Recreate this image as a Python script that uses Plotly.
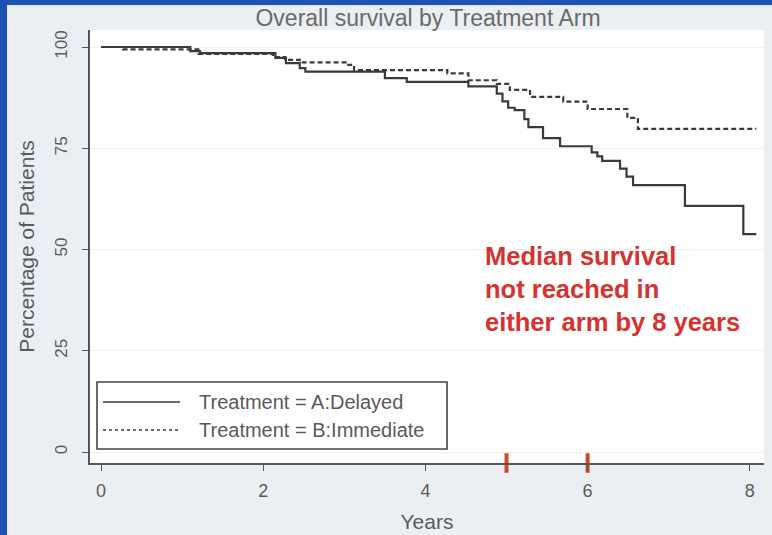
import plotly.graph_objects as go

# Kaplan-Meier step estimates (years, % surviving) for each arm
delayed_years = [0, 1.10, 1.22, 2.15, 2.28, 2.45, 2.52, 3.50, 3.77, 4.53, 4.88, 4.95,
                 5.02, 5.10, 5.22, 5.27, 5.45, 5.66, 6.05, 6.12, 6.18, 6.40, 6.48,
                 6.56, 7.20, 7.92, 8.08]
delayed_pct = [100, 99.0, 98.5, 97.3, 96.0, 94.8, 93.9, 92.3, 91.4, 90.3, 88.5, 86.6,
               85.0, 84.4, 82.2, 80.2, 77.5, 75.5, 74.0, 73.0, 71.9, 70.0, 68.0,
               65.9, 60.8, 53.8, 53.8]

immediate_years = [0, 0.27, 1.20, 2.12, 2.27, 2.45, 3.03, 3.12, 4.27, 4.53, 4.88, 5.04,
                   5.29, 5.70, 6.00, 6.49, 6.62, 8.08]
immediate_pct = [100, 99.4, 98.3, 97.5, 96.8, 96.2, 95.6, 94.3, 93.5, 91.8, 90.9, 89.4,
                 87.7, 86.5, 84.7, 82.5, 79.8, 79.8]

series_names = ["Treatment = A:Delayed", "Treatment = B:Immediate"]
series_dash = ["solid", "5px,3px"]

highlight_years = [5, 6]
x_ticks = [0, 2, 4, 6, 8]
y_ticks = [0, 25, 50, 75, 100]

note_lines = ["Median survival", "not reached in", "either arm by 8 years"]

FONT = "Liberation Sans, Arial, sans-serif"
TEXT_GREY = "#5a5a5a"
LINE_COLOR = "#3a3a3a"
RED = "#d6322f"
PANEL = "#eaeff3"
FRAME_BLUE = "#1d52b4"

X_RANGE = [-0.136, 8.175]
Y_RANGE = [-2.7, 104.2]

fig = go.Figure()

for name, dash, xs, ys in zip(series_names, series_dash,
                              [delayed_years, immediate_years],
                              [delayed_pct, immediate_pct]):
    fig.add_trace(go.Scatter(
        x=xs, y=ys, name=name, mode="lines",
        line=dict(shape="hv", color=LINE_COLOR, width=2.2, dash=dash),
        showlegend=False,
    ))

# red tick marks on the time axis at years 5 and 6
fig.add_trace(go.Scatter(
    x=highlight_years, y=[Y_RANGE[0]] * len(highlight_years), mode="markers",
    marker=dict(symbol="line-ns", size=14, line=dict(color="#cc4a2a", width=4)),
    cliponaxis=False, showlegend=False, hoverinfo="skip",
))

# legend box drawn by hand so the line samples are as long as in Stata output
shapes = [
    dict(type="rect", xref="paper", yref="paper", x0=0.0104, x1=0.5297,
         y0=0.0323, y1=0.187, line=dict(color="#444444", width=1.6),
         fillcolor="white", layer="below"),
    # blue slide frame along the left and top edges
    dict(type="rect", xref="paper", yref="paper", x0=-0.14, x1=-0.1231,
         y0=-0.2, y1=1.1, line=dict(width=0), fillcolor=FRAME_BLUE, layer="below"),
    dict(type="rect", xref="paper", yref="paper", x0=-0.14, x1=1.02,
         y0=1.0577, y1=1.1, line=dict(width=0), fillcolor=FRAME_BLUE, layer="below"),
]
legend_rows = [0.1409, 0.0762]
annotations = []
for name, dash, yrow in zip(series_names, series_dash, legend_rows):
    shapes.append(dict(type="line", xref="paper", yref="paper", x0=0.0193, x1=0.1335,
                       y0=yrow, y1=yrow,
                       line=dict(color=LINE_COLOR, width=1.4,
                                 dash="dot" if dash != "solid" else "solid")))
    annotations.append(dict(xref="paper", yref="paper", x=0.1588, y=yrow, text=name,
                            showarrow=False, xanchor="left", yanchor="middle",
                            font=dict(family=FONT, size=20, color=TEXT_GREY)))

for i, line in enumerate(note_lines):
    annotations.append(dict(xref="x", yref="y", x=4.71, y=48.3 - i * 8.1, text=line,
                            showarrow=False, xanchor="left", yanchor="middle",
                            font=dict(family=FONT, size=25.5, color=RED, weight="bold")))

fig.update_layout(
    width=772, height=535,
    margin=dict(l=90, r=8, t=30, b=72),
    paper_bgcolor=PANEL, plot_bgcolor="white",
    font=dict(family=FONT, color=TEXT_GREY),
    title=dict(text="Overall survival by Treatment Arm", x=0.5015, xref="paper",
               xanchor="center", y=0.966, yref="container", yanchor="middle",
               font=dict(family=FONT, size=23, color="#6a6a6a")),
    xaxis=dict(range=X_RANGE, tickvals=x_ticks, showgrid=False, zeroline=False,
               automargin=False,
               showline=True, linecolor="#555555", linewidth=1.5,
               ticks="outside", ticklen=6, tickcolor="#555555", tickwidth=1.3,
               ticklabelstandoff=5,
               tickfont=dict(size=18, color=TEXT_GREY),
               title=dict(text="Years", font=dict(size=21, color=TEXT_GREY), standoff=14)),
    yaxis=dict(range=Y_RANGE, tickvals=y_ticks, showgrid=True, gridcolor="#f0f0f0",
               gridwidth=1, zeroline=False, automargin=False,
               showline=True, linecolor="#555555", linewidth=1.5,
               ticks="outside", ticklen=6, tickcolor="#555555", tickwidth=1.3,
               ticklabelstandoff=8,
               tickangle=-90, tickfont=dict(size=17, color=TEXT_GREY),
               title=dict(text="Percentage of Patients", font=dict(size=21, color=TEXT_GREY),
                          standoff=12)),
    shapes=shapes, annotations=annotations,
)

fig.write_html("out.html")
